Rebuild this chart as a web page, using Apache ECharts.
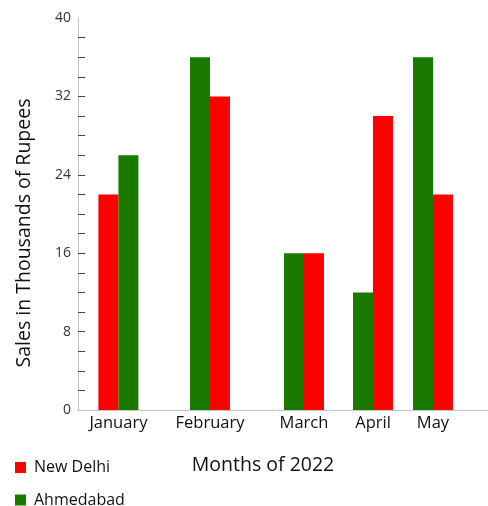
<!DOCTYPE html>
<html><head><meta charset="utf-8">
<script src="https://cdn.jsdelivr.net/npm/echarts@6/dist/echarts.min.js"></script>
<style>html,body{margin:0;padding:0;background:#fff}#c{width:488px;height:506px}</style>
</head><body><div id="c"></div>
<script>
// ---- data ----
const months = ['January', 'February', 'March', 'April', 'May'];
const newDelhi = [22, 32, 16, 30, 22];
const ahmedabad = [26, 36, 16, 12, 36];
const yTicks = [0, 8, 16, 24, 32, 40];
const cities = ['New Delhi', 'Ahmedabad'];

// ---- layout (axis units on the x scale) ----
const monthCenter = [1.01, 3.3, 5.65, 7.375, 8.875];
const delhiFirst = [true, false, false, false, false];
const half = 0.25;

const FONT = '"Open Sans", "Noto Sans", sans-serif';
const chart = echarts.init(document.getElementById('c'), null, {renderer: 'canvas'});

function monthLabel(v) {
  for (let i = 0; i < monthCenter.length; i++) {
    if (Math.abs(monthCenter[i] - v) < 1e-6) return months[i];
  }
  return '';
}
const minorTicks = [];
for (let v = yTicks[0] + 2; v < yTicks[yTicks.length - 1]; v += 2) minorTicks.push(v);

const legendBase = {
  orient: 'vertical', left: 15, padding: 0,
  icon: 'rect', itemWidth: 11, itemHeight: 11,
  textStyle: {fontFamily: FONT, fontSize: 16, color: '#111', lineHeight: 16, padding: [0, 0, 0, 3]}
};

chart.setOption({
  animation: false,
  textStyle: {fontFamily: FONT},
  grid: {left: 78, right: 0, top: 18, bottom: 96, containLabel: false},
  legend: [
    Object.assign({}, legendBase, {top: 459.5, data: [cities[0]]}),
    Object.assign({}, legendBase, {top: 492, data: [cities[1]]})
  ],
  xAxis: {
    type: 'value', min: 0, max: 10.25,
    name: 'Months of 2022', nameLocation: 'middle', nameGap: 45,
    nameTextStyle: {fontFamily: FONT, fontSize: 19.5, color: '#111', padding: [0, 40, 0, 0]},
    axisLine: {show: true, lineStyle: {color: '#c4c4c4', width: 1}},
    axisTick: {show: false},
    splitLine: {show: false},
    axisLabel: {
      customValues: monthCenter, formatter: monthLabel,
      fontFamily: FONT, fontSize: 16.5, color: '#111', margin: 5
    }
  },
  yAxis: {
    type: 'value', min: yTicks[0], max: yTicks[yTicks.length - 1], interval: 8,
    name: 'Sales in Thousands of Rupees', nameLocation: 'middle', nameGap: 44, nameRotate: 90,
    nameTextStyle: {fontFamily: FONT, fontSize: 19.5, color: '#111', padding: [0, 38, 0, 0]},
    axisLine: {show: true, lineStyle: {color: '#c4c4c4', width: 1}},
    axisTick: {show: true, inside: true, length: 7, customValues: minorTicks, lineStyle: {color: '#444', width: 1}},
    splitLine: {show: false},
    axisLabel: {fontFamily: FONT, fontSize: 14, color: '#333', margin: 7}
  },
  series: [
    {
      name: cities[0], type: 'bar', barWidth: 20, barGap: '-100%',
      itemStyle: {color: '#ff0000'},
      data: newDelhi.map((v, i) => [monthCenter[i] + (delhiFirst[i] ? -half : half), v])
    },
    {
      name: cities[1], type: 'bar', barWidth: 20, barGap: '-100%',
      itemStyle: {color: '#1a7a00'},
      data: ahmedabad.map((v, i) => [monthCenter[i] + (delhiFirst[i] ? half : -half), v])
    }
  ]
});
</script></body></html>
